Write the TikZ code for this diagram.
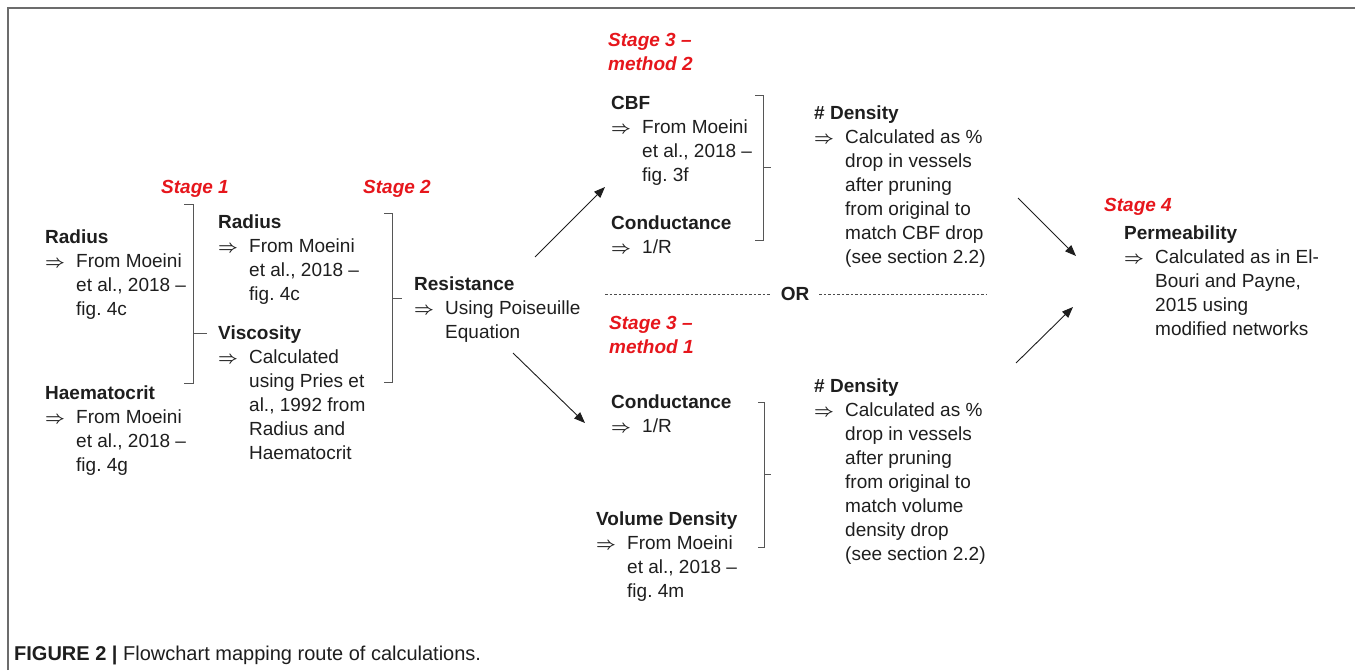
\documentclass[tikz,border=0pt]{standalone}
\usepackage{fontspec}
\setmainfont{Liberation Sans}
\usetikzlibrary{arrows.meta}
\definecolor{stagered}{RGB}{230,22,28}
\definecolor{inkgray}{RGB}{30,30,30}
\frenchspacing
\newcommand{\thento}{\makebox[31pt][l]{\boldmath$\Rightarrow$}}
\newcommand{\indt}{\hspace*{31pt}}

\begin{document}
\begin{tikzpicture}[x=1pt,y=-1pt]
\tikzset{entry/.style={anchor=north west, inner sep=0pt, align=left, text=inkgray, font=\fontsize{19}{24}\selectfont},
  stage/.style={entry, text=stagered, font=\fontsize{19}{24}\selectfont\bfseries\itshape},
  flow/.style={draw=inkgray, line width=0.9pt, -{Triangle[length=11pt,width=8.5pt]}},
  brack/.style={draw=inkgray!75, line width=1pt}}
\useasboundingbox (0,0) rectangle (1355,670);
\draw[gray!85!black, line width=2pt] (8,670) -- (8,8) -- (1355,8);
\node[entry, anchor=base west, font=\fontsize{20}{24}\selectfont] (caption) at (14,660) {\textbf{FIGURE 2 |} Flowchart mapping route of calculations.};
\node[stage] (s1) at (161,180) {Stage 1};
\node[stage] (s2) at (363,180) {Stage 2};
\node[stage] (s3b) at (608,33) {Stage 3 --\\method 2};
\node[stage] (s3a) at (609,316) {Stage 3 --\\method 1};
\node[stage] (s4) at (1104,198) {Stage 4};
\node[entry] (radA) at (45,230) {\textbf{Radius}\\ \thento From Moeini\\ \indt et al., 2018 --\\ \indt fig. 4c};
\node[entry] (hct) at (45,386) {\textbf{Haematocrit}\\ \thento From Moeini\\ \indt et al., 2018 --\\ \indt fig. 4g};
\node[entry] (radB) at (218,215) {\textbf{Radius}\\ \thento From Moeini\\ \indt et al., 2018 --\\ \indt fig. 4c};
\node[entry] (visc) at (218,326) {\textbf{Viscosity}\\ \thento Calculated\\ \indt using Pries et\\ \indt al., 1992 from\\ \indt Radius and\\ \indt Haematocrit};
\node[entry] (res) at (414,277) {\textbf{Resistance}\\ \thento Using Poiseuille\\ \indt Equation};
\node[entry] (cbf) at (611,96) {\textbf{CBF}\\ \thento From Moeini\\ \indt et al., 2018 --\\ \indt fig. 3f};
\node[entry] (condA) at (611,216) {\textbf{Conductance}\\ \thento 1/R};
\node[entry] (denA) at (814,106) {\textbf{\# Density}\\ \thento Calculated as \%\\ \indt drop in vessels\\ \indt after pruning\\ \indt from original to\\ \indt match CBF drop\\ \indt (see section 2.2)};
\node[entry] (condB) at (611,395) {\textbf{Conductance}\\ \thento 1/R};
\node[entry] (vold) at (596,512) {\textbf{Volume Density}\\ \thento From Moeini\\ \indt et al., 2018 --\\ \indt fig. 4m};
\node[entry] (denB) at (814,379) {\textbf{\# Density}\\ \thento Calculated as \%\\ \indt drop in vessels\\ \indt after pruning\\ \indt from original to\\ \indt match volume\\ \indt density drop\\ \indt (see section 2.2)};
\node[entry] (perm) at (1124,226) {\textbf{Permeability}\\ \thento Calculated as in El-\\ \indt Bouri and Payne,\\ \indt 2015 using\\ \indt modified networks};
\draw[brack] (184,204) -- (193,204) -- (193,383) -- (184,383) (193,333) -- (207,333);
\draw[brack] (384,213) -- (392,213) -- (392,382) -- (384,382) (392,298) -- (402,298);
\draw[brack] (755,95) -- (763,95) -- (763,240) -- (755,240) (763,167) -- (771,167);
\draw[brack] (758,402) -- (764,402) -- (764,547) -- (758,547) (764,474) -- (771,474);
\node[entry, anchor=base, inner xsep=10pt, font=\fontsize{19}{24}\selectfont\bfseries] (or) at (795,300) {OR};
\coordinate (orL) at (605,294);
\coordinate (orR) at (986,294);
\draw[inkgray!80, line width=0.8pt, dash pattern=on 2.5pt off 2pt] (orL) -- (orL -| or.west) (or.east |- orR) -- (orR);
\coordinate (a1s) at (535,257);
\coordinate (a1e) at (605,187);
\coordinate (a2s) at (513,353);
\coordinate (a2e) at (585,423);
\coordinate (a3s) at (1018,198);
\coordinate (a3e) at (1076,256);
\coordinate (a4s) at (1016,363);
\coordinate (a4e) at (1073,307);
\draw[flow] (a1s) -- (a1e);
\draw[flow] (a2s) -- (a2e);
\draw[flow] (a3s) -- (a3e);
\draw[flow] (a4s) -- (a4e);
\end{tikzpicture}
\end{document}
